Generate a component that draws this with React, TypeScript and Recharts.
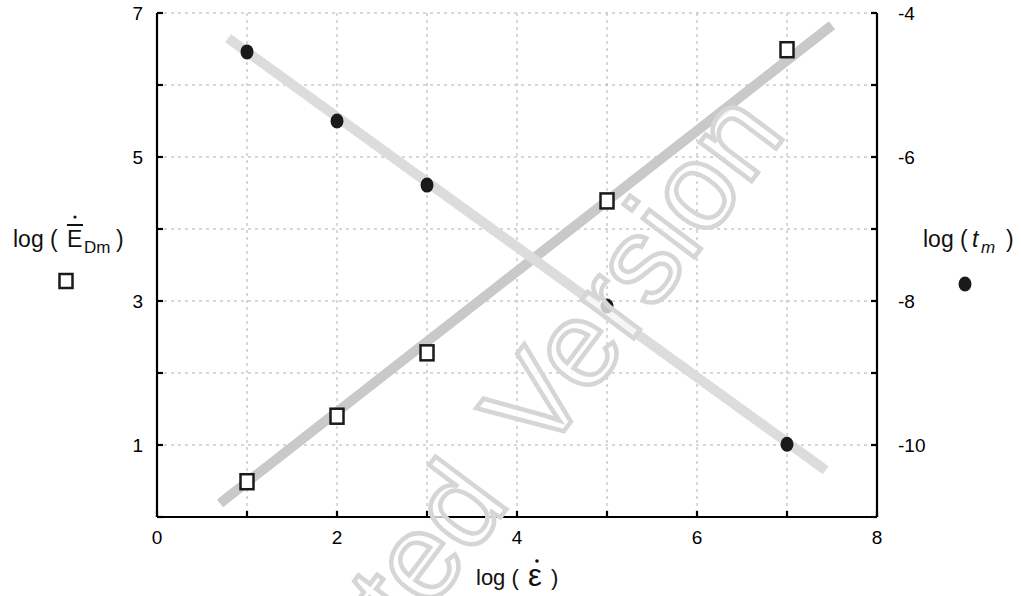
import React from 'react'
import { ComposedChart, Line, Scatter, XAxis, YAxis, CartesianGrid } from 'recharts';

// measured points, x = log(strain rate)
const xValues = [1, 2, 3, 5, 7];
const logEDm = [0.49, 1.40, 2.28, 4.39, 6.49];
const logTm = [-4.54, -5.50, -6.39, -8.07, -9.99];

// fitted straight lines (end points)
const fitEDmX = [0.7, 7.5];
const fitEDmY = [0.19, 6.83];
const fitTmX = [0.79, 7.43];
const fitTmY = [-4.35, -10.35];

const xTicks = [0, 1, 2, 3, 4, 5, 6, 7, 8];
const leftTicks = [0, 1, 2, 3, 4, 5, 6, 7];
const rightTicks = [-11, -10, -9, -8, -7, -6, -5, -4];

const xLabels = [0, 2, 4, 6, 8];
const leftLabels = [1, 3, 5, 7];
const rightLabels = [-4, -6, -8, -10];

const FONT = '"Liberation Sans", Arial, sans-serif';

const edmPoints = xValues.map((x, i) => ({ x: x, y: logEDm[i] }));
const tmPoints = xValues.map((x, i) => ({ x: x, y: logTm[i] }));
const edmFit = fitEDmX.map((x, i) => ({ x: x, y: fitEDmY[i] }));
const tmFit = fitTmX.map((x, i) => ({ x: x, y: fitTmY[i] }));

const SquareDot = (props: any) => {
    const { cx, cy } = props;
    if (cx == null || cy == null) return null;
    return <rect x={cx - 6.5} y={cy - 7.5} width={13} height={15} fill="#fff" stroke="#1a1a1a" strokeWidth={2.5} />
}

const RoundDot = (props: any) => {
    const { cx, cy } = props;
    if (cx == null || cy == null) return null;
    return <ellipse cx={cx} cy={cy} rx={6.5} ry={7.5} fill="#1a1a1a" />
}

// tick label, only some values get text
const makeTick = (shown: number[], anchor: string, dy: string) => (props: any) => {
    const { x, y, payload } = props;
    if (!shown.includes(payload.value)) return <g />;
    return (
        <text x={x} y={y} dy={dy} textAnchor={anchor} fontSize={19} fill="#000" fontFamily={FONT}>
            {payload.value}
        </text>
    )
}

const axisLineStyle = { stroke: '#000', strokeWidth: 2.2 };

const App: React.FC = () => {
    return (
        <div style={{ position: 'absolute', left: 0, top: 0, width: 1021, height: 596, background: '#fff' }}>
            <ComposedChart width={1021} height={596}
                margin={{ top: 13, right: 84, left: 97, bottom: 49 }}
            >
                <CartesianGrid yAxisId="left" stroke="#b0b0b0" strokeDasharray="3 4" />
                <XAxis type="number" dataKey="x" domain={[0, 8]} ticks={xTicks} interval={0}
                    height={30} tickSize={-6} tickMargin={20} stroke="#000"
                    axisLine={axisLineStyle} tickLine={axisLineStyle}
                    tick={makeTick(xLabels, 'middle', '0.71em')} />
                <XAxis xAxisId="top" orientation="top" type="number" dataKey="x" domain={[0, 8]}
                    ticks={xTicks} interval={0} height={0} tickSize={-6} tick={false} stroke="#000"
                    axisLine={axisLineStyle} tickLine={axisLineStyle} />
                <YAxis yAxisId="left" dataKey="y" type="number" domain={[0, 7]} ticks={leftTicks} interval={0}
                    width={60} tickSize={-6} tickMargin={20} stroke="#000"
                    axisLine={axisLineStyle} tickLine={axisLineStyle}
                    tick={makeTick(leftLabels, 'end', '0.35em')} />
                <YAxis yAxisId="right" orientation="right" dataKey="y" type="number" domain={[-11, -4]}
                    ticks={rightTicks} interval={0} width={60} tickSize={-6} tickMargin={27} stroke="#000"
                    axisLine={axisLineStyle} tickLine={axisLineStyle}
                    tick={makeTick(rightLabels, 'start', '0.35em')} />
                <Line yAxisId="left" data={edmFit} dataKey="y" type="linear" stroke="#c9c9c9" strokeWidth={10}
                    strokeLinecap="butt" dot={false} activeDot={false} isAnimationActive={false} />
                <Line yAxisId="right" data={tmFit} dataKey="y" type="linear" stroke="#dcdcdc" strokeWidth={10}
                    strokeLinecap="butt" dot={false} activeDot={false} isAnimationActive={false} />
                <Scatter yAxisId="left" data={edmPoints} dataKey="y" shape={<SquareDot />} isAnimationActive={false} />
                <Scatter yAxisId="right" data={tmPoints} dataKey="y" shape={<RoundDot />} isAnimationActive={false} />
            </ComposedChart>
            <svg width={1021} height={596} style={{ position: 'absolute', left: 0, top: 0, pointerEvents: 'none' }}
                fontFamily={FONT}>
                {/* watermark */}
                <g fontSize={122} fill="#fff" fillOpacity={0.75} stroke="#d6d6d6" strokeWidth={4.5}>
                    <text transform="translate(206 910) rotate(-53.13)">Accepted</text>
                    <text transform="translate(543 459) rotate(-53.13)">Version</text>
                </g>

                {/* left axis title */}
                <g fill="#111">
                    <text x={13} y={247} fontSize={23}>log (</text>
                    <text x={67} y={247} fontSize={23}>E</text>
                    <line x1={67} x2={83} y1={225} y2={225} stroke="#111" strokeWidth={2} />
                    <circle cx={75} cy={217} r={1.6} />
                    <text x={84} y={253} fontSize={17}>Dm</text>
                    <text x={116} y={247} fontSize={23}>)</text>
                </g>
                <rect x={59.5} y={274} width={13} height={14} fill="#fff" stroke="#1a1a1a" strokeWidth={2.5} />

                {/* right axis title */}
                <g fill="#111">
                    <text x={923} y={247} fontSize={23}>log (</text>
                    <text x={972} y={247} fontSize={23} fontStyle="italic">t</text>
                    <text x={981} y={253} fontSize={17} fontStyle="italic">m</text>
                    <text x={1006} y={247} fontSize={23}>)</text>
                </g>
                <ellipse cx={965} cy={284} rx={6.5} ry={7.5} fill="#1a1a1a" />

                {/* x axis title */}
                <g fill="#111">
                    <text x={476} y={585} fontSize={22}>log (</text>
                    <text x={528} y={586} fontSize={31}>ε</text>
                    <circle cx={537} cy={561} r={1.8} />
                    <text x={551} y={585} fontSize={22}>)</text>
                </g>
            </svg>
        </div>
    )
}

export default App
